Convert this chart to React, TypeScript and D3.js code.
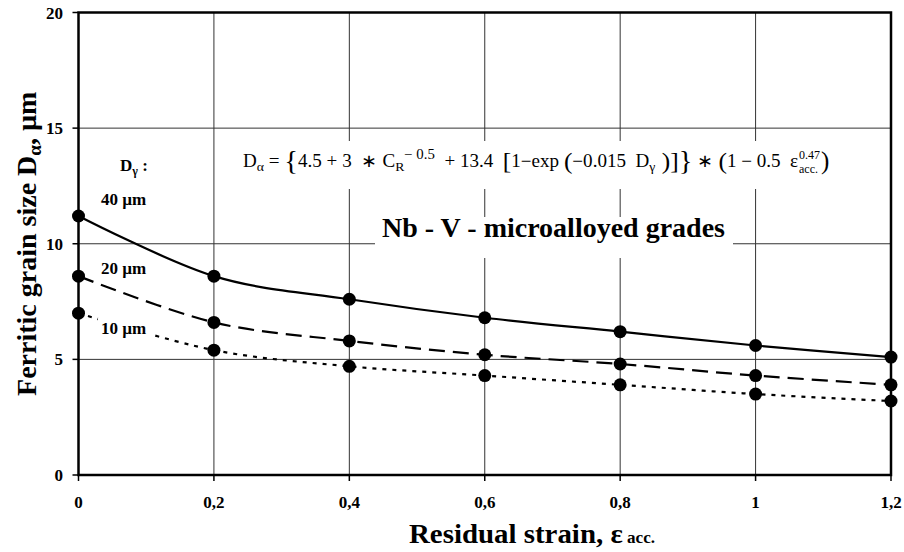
import React from "react";
import * as d3 from "d3";

const strain = [0, 0.2, 0.4, 0.6, 0.8, 1.0, 1.2];
const d40 = [11.2, 8.6, 7.6, 6.8, 6.2, 5.6, 5.1];
const d20 = [8.6, 6.6, 5.8, 5.2, 4.8, 4.3, 3.9];
const d10 = [7.0, 5.4, 4.7, 4.3, 3.9, 3.5, 3.2];
const xTicks = [0, 0.2, 0.4, 0.6, 0.8, 1, 1.2];
const yTicks = [0, 5, 10, 15, 20];

const series = [
  { name: "40 µm", values: d40, dash: null },
  { name: "20 µm", values: d20, dash: "16,8" },
  { name: "10 µm", values: d10, dash: "4,6" },
];

const FONT = "'Liberation Serif', 'Times New Roman', serif";

export default function App() {
  const W = 904, H = 552;
  const x = d3.scaleLinear().domain([0, 1.2]).range([78.5, 891]);
  const y = d3.scaleLinear().domain([0, 20]).range([475, 12.5]);

  // Excel-style smoothing ~ uniform Catmull-Rom
  const line = d3
    .line<number>()
    .x((d, i) => x(strain[i]))
    .y((d) => y(d))
    .curve(d3.curveCatmullRom.alpha(0));

  const fmt = (v: number) => (v === 0 ? "0" : String(+v.toFixed(1)).replace(".", ","));

  return (
    <svg width={W} height={H} style={{ display: "block", position: "absolute", left: 0, top: 0, background: "#fff" }} fontFamily={FONT}>
      <rect width={W} height={H} fill="#fff" />
      {/* grid */}
      {xTicks.slice(1, -1).map((t) => (
        <line key={"gx" + t} x1={x(t)} x2={x(t)} y1={y(20)} y2={y(0)} stroke="#333" strokeWidth={1} />
      ))}
      {yTicks.slice(1, -1).map((t) => (
        <line key={"gy" + t} x1={x(0)} x2={x(1.2)} y1={y(t)} y2={y(t)} stroke="#333" strokeWidth={1} />
      ))}

      {/* white label boxes */}
      <rect x={232} y={141} width={610} height={48} fill="#fff" />
      <rect x={375} y={217} width={358} height={41} fill="#fff" />

      {/* frame */}
      <rect x={x(0)} y={y(20)} width={x(1.2) - x(0)} height={y(0) - y(20)} fill="none" stroke="#000" strokeWidth={2.5} />

      {/* ticks */}
      {yTicks.map((t) => (
        <g key={"yt" + t}>
          <line x1={x(0) - 6} x2={x(0)} y1={y(t)} y2={y(t)} stroke="#000" strokeWidth={1.5} />
          <text x={63} y={y(t) + 6} textAnchor="end" fontSize={17} fontWeight="bold">{t}</text>
        </g>
      ))}
      {xTicks.map((t) => (
        <g key={"xt" + t}>
          <line x1={x(t)} x2={x(t)} y1={y(0)} y2={y(0) + 6} stroke="#000" strokeWidth={1.5} />
          <text x={x(t)} y={508} textAnchor="middle" fontSize={17} fontWeight="bold">{fmt(t)}</text>
        </g>
      ))}

      {/* series */}
      {series.map((s) => (
        <g key={s.name}>
          <path d={line(s.values) || ""} fill="none" stroke="#000" strokeWidth={2.2} strokeDasharray={s.dash || undefined} />
          {s.values.map((v, i) => (
            <circle key={i} cx={x(strain[i])} cy={y(v)} r={6.5} fill="#000" />
          ))}
        </g>
      ))}

      {/* series labels */}
      <rect x={98} y={318} width={52} height={22} fill="#fff" />
      <text x={120} y={171} fontSize={17} fontWeight="bold">
        D<tspan fontSize={12} dy={4}>γ</tspan><tspan dy={-4}> :</tspan>
      </text>
      <text x={101} y={205} fontSize={17} fontWeight="bold">40 µm</text>
      <text x={101} y={274} fontSize={17} fontWeight="bold">20 µm</text>
      <text x={101} y={334} fontSize={17} fontWeight="bold">10 µm</text>

      {/* formula */}
      <g transform="translate(243,167) scale(1.06,1)">
        <text x={0} y={0} fontSize={18} style={{ whiteSpace: "pre" }}>
          D<tspan fontSize={13} dy={4}>α</tspan>
          <tspan dy={-4}> = </tspan>
          <tspan fontSize={27} dy={3}>{"{"}</tspan>
          <tspan dy={-3}>4.5 + 3  ∗ C</tspan>
          <tspan fontSize={13} dy={4}>R</tspan>
          <tspan fontSize={14} dy={-12}>− 0.5</tspan>
          <tspan dy={8}>  + 13.4  </tspan>
          <tspan fontSize={24} dy={2}>[</tspan>
          <tspan dy={-2}>1−exp </tspan>
          <tspan fontSize={24} dy={2}>(</tspan>
          <tspan dy={-2}>−0.015  D</tspan>
          <tspan fontSize={13} dy={4}>γ</tspan>
          <tspan fontSize={24} dy={-2}> )]</tspan>
          <tspan fontSize={27} dy={1}>{"}"}</tspan>
          <tspan dy={-3}> ∗ </tspan>
          <tspan fontSize={24} dy={2}>(</tspan>
          <tspan dy={-2}>1 − 0.5  ε</tspan>
        </text>
      </g>
      {/* stacked exponent / subscript of epsilon, then closing paren */}
      <text x={799} y={159} fontSize={12}>0.47</text>
      <text x={799} y={173} fontSize={12}>acc.</text>
      <text x={821} y={169} fontSize={25}>)</text>

      <text x={382} y={237} fontSize={28} fontWeight="bold">Nb - V - microalloyed grades</text>

      {/* axis titles */}
      <g transform="translate(409,543) scale(1.07,1)">
        <text x={0} y={0} fontSize={27} fontWeight="bold">
          Residual strain, ε<tspan fontSize={16}> acc.</tspan>
        </text>
      </g>
      <text transform={`translate(36, ${(y(0) + y(20)) / 2}) rotate(-90)`} textAnchor="middle" fontSize={28} fontWeight="bold">
        Ferritic grain size D<tspan fontSize={19} dy={5}>α</tspan><tspan dy={-5}>, µm</tspan>
      </text>
    </svg>
  );
}
